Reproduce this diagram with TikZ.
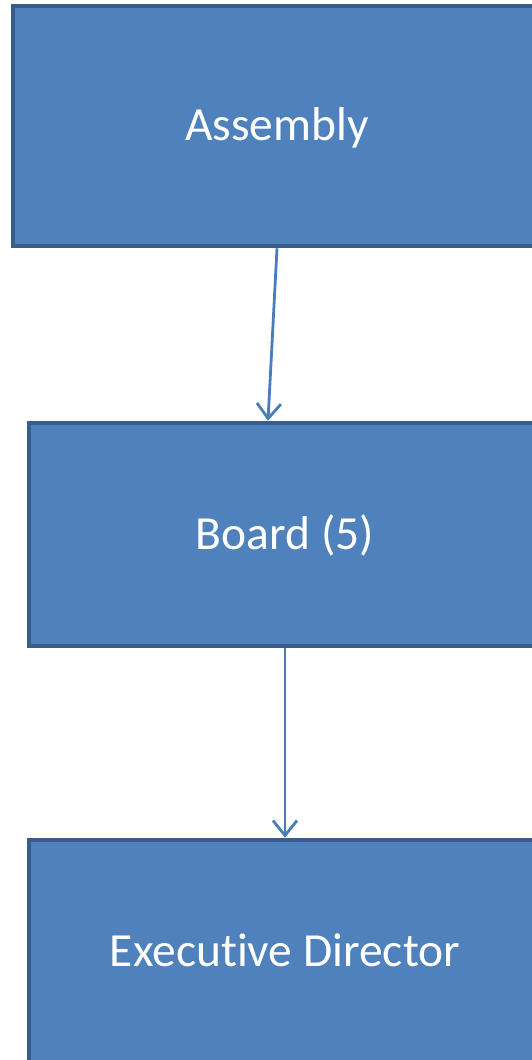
\documentclass[tikz,border=0pt]{standalone}
\usepackage{fontspec}
\setmainfont[Ligatures=NoCommon]{Carlito}
\usetikzlibrary{arrows.meta}
\definecolor{boxfill}{HTML}{4F81BD}
\definecolor{boxline}{HTML}{385D8A}
\definecolor{linkcol}{HTML}{4A7EBB}
\tikzset{
  orgbox/.style={draw=boxline, fill=boxfill, line width=4.5pt, text=white,
    font=\fontsize{47.5}{56}\selectfont, inner sep=0pt,
    text height=33pt, text depth=3.5pt},
  link/.style={draw=linkcol, line width=2.8pt,
    -{Straight Barb[length=15pt,width=24pt,line width=2.8pt]}}
}
\begin{document}
\begin{tikzpicture}[x=1pt,y=-1pt]
  \useasboundingbox (0,0) rectangle (531,1060);
  \node[orgbox, minimum width=528pt, minimum height=240pt] (assembly) at (277,126) {Assembly};
  \node[orgbox, minimum width=512pt, minimum height=223pt] (board) at (285,534.5) {Board (5)};
  \node[orgbox, minimum width=512pt, minimum height=224pt] (exec) at (285,952) {Executive Director};
  \begin{scope}[link]
    \draw (assembly.south) to ([xshift=-17pt]board.north);
    \draw (board.south) to (exec.north);
  \end{scope}
\end{tikzpicture}
\end{document}
